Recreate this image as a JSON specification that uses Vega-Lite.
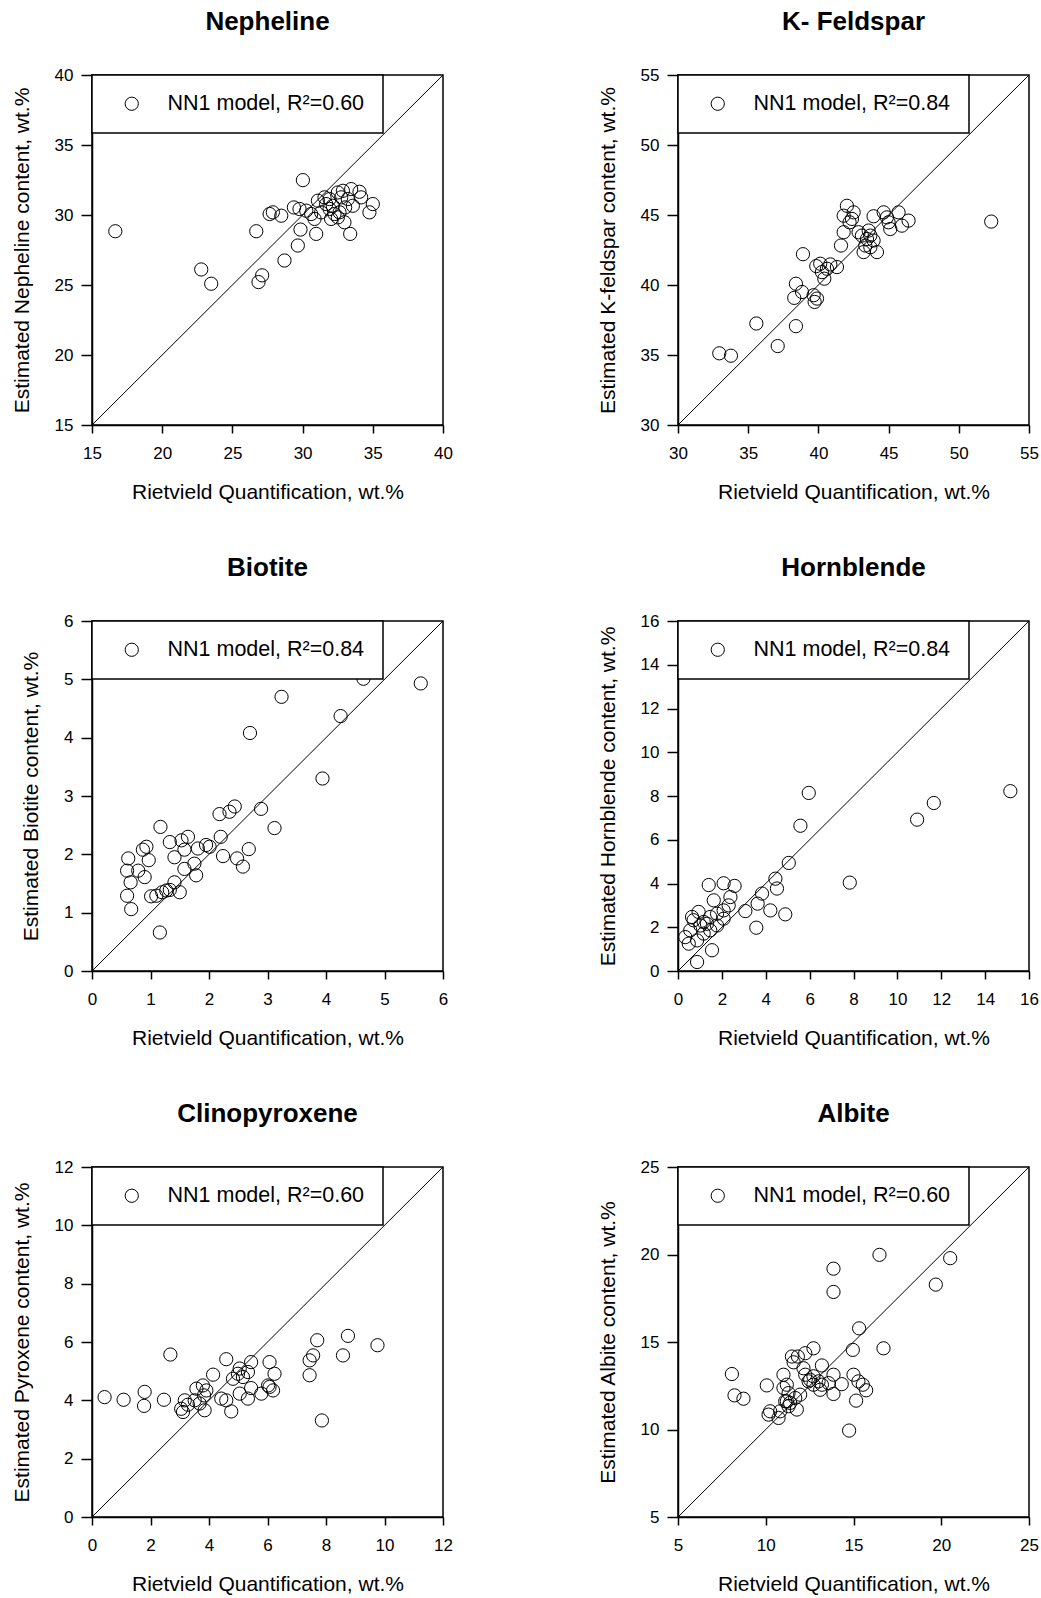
{
  "$schema": "https://vega.github.io/schema/vega-lite/v6.json",
  "background": "white",
  "padding": {"left": 10, "top": 8, "right": 0, "bottom": 0},
  "columns": 2,
  "spacing": {"row": 51, "column": 142},
  "datasets": {
    "points": [
      {"mineral": "Nepheline", "rietveld": 16.66, "estimated": 28.84},
      {"mineral": "Nepheline", "rietveld": 22.78, "estimated": 26.11},
      {"mineral": "Nepheline", "rietveld": 23.49, "estimated": 25.09},
      {"mineral": "Nepheline", "rietveld": 26.86, "estimated": 25.21},
      {"mineral": "Nepheline", "rietveld": 27.12, "estimated": 25.69},
      {"mineral": "Nepheline", "rietveld": 26.70, "estimated": 28.84},
      {"mineral": "Nepheline", "rietveld": 28.71, "estimated": 26.75},
      {"mineral": "Nepheline", "rietveld": 29.66, "estimated": 27.82},
      {"mineral": "Nepheline", "rietveld": 29.85, "estimated": 28.96},
      {"mineral": "Nepheline", "rietveld": 30.02, "estimated": 32.49},
      {"mineral": "Nepheline", "rietveld": 27.65, "estimated": 30.07},
      {"mineral": "Nepheline", "rietveld": 27.88, "estimated": 30.19},
      {"mineral": "Nepheline", "rietveld": 28.48, "estimated": 29.95},
      {"mineral": "Nepheline", "rietveld": 29.38, "estimated": 30.54},
      {"mineral": "Nepheline", "rietveld": 29.78, "estimated": 30.43},
      {"mineral": "Nepheline", "rietveld": 30.97, "estimated": 28.65},
      {"mineral": "Nepheline", "rietveld": 33.39, "estimated": 28.65},
      {"mineral": "Nepheline", "rietveld": 34.76, "estimated": 30.19},
      {"mineral": "Nepheline", "rietveld": 35.00, "estimated": 30.78},
      {"mineral": "Nepheline", "rietveld": 31.09, "estimated": 31.02},
      {"mineral": "Nepheline", "rietveld": 31.56, "estimated": 31.26},
      {"mineral": "Nepheline", "rietveld": 31.92, "estimated": 31.14},
      {"mineral": "Nepheline", "rietveld": 32.15, "estimated": 30.66},
      {"mineral": "Nepheline", "rietveld": 32.51, "estimated": 31.61},
      {"mineral": "Nepheline", "rietveld": 32.87, "estimated": 31.73},
      {"mineral": "Nepheline", "rietveld": 33.46, "estimated": 31.85},
      {"mineral": "Nepheline", "rietveld": 34.05, "estimated": 31.66},
      {"mineral": "Nepheline", "rietveld": 34.17, "estimated": 31.26},
      {"mineral": "Nepheline", "rietveld": 32.75, "estimated": 31.26},
      {"mineral": "Nepheline", "rietveld": 33.22, "estimated": 31.14},
      {"mineral": "Nepheline", "rietveld": 31.92, "estimated": 30.43},
      {"mineral": "Nepheline", "rietveld": 32.27, "estimated": 30.07},
      {"mineral": "Nepheline", "rietveld": 32.63, "estimated": 30.19},
      {"mineral": "Nepheline", "rietveld": 32.03, "estimated": 29.72},
      {"mineral": "Nepheline", "rietveld": 32.98, "estimated": 29.48},
      {"mineral": "Nepheline", "rietveld": 32.51, "estimated": 29.83},
      {"mineral": "Nepheline", "rietveld": 30.85, "estimated": 29.72},
      {"mineral": "Nepheline", "rietveld": 30.61, "estimated": 30.07},
      {"mineral": "Nepheline", "rietveld": 30.26, "estimated": 30.31},
      {"mineral": "Nepheline", "rietveld": 31.32, "estimated": 30.19},
      {"mineral": "Nepheline", "rietveld": 31.68, "estimated": 30.78},
      {"mineral": "Nepheline", "rietveld": 33.58, "estimated": 30.66},
      {"mineral": "Nepheline", "rietveld": 33.03, "estimated": 30.54},

      {"mineral": "K-Feldspar", "rietveld": 32.94, "estimated": 35.12},
      {"mineral": "K-Feldspar", "rietveld": 33.77, "estimated": 34.95},
      {"mineral": "K-Feldspar", "rietveld": 35.58, "estimated": 37.25},
      {"mineral": "K-Feldspar", "rietveld": 37.10, "estimated": 35.64},
      {"mineral": "K-Feldspar", "rietveld": 38.40, "estimated": 37.06},
      {"mineral": "K-Feldspar", "rietveld": 38.90, "estimated": 42.20},
      {"mineral": "K-Feldspar", "rietveld": 38.40, "estimated": 40.09},
      {"mineral": "K-Feldspar", "rietveld": 38.28, "estimated": 39.08},
      {"mineral": "K-Feldspar", "rietveld": 38.83, "estimated": 39.50},
      {"mineral": "K-Feldspar", "rietveld": 39.66, "estimated": 39.27},
      {"mineral": "K-Feldspar", "rietveld": 39.90, "estimated": 39.03},
      {"mineral": "K-Feldspar", "rietveld": 39.73, "estimated": 38.79},
      {"mineral": "K-Feldspar", "rietveld": 39.85, "estimated": 41.35},
      {"mineral": "K-Feldspar", "rietveld": 40.13, "estimated": 41.52},
      {"mineral": "K-Feldspar", "rietveld": 40.42, "estimated": 40.45},
      {"mineral": "K-Feldspar", "rietveld": 40.85, "estimated": 41.47},
      {"mineral": "K-Feldspar", "rietveld": 41.32, "estimated": 41.28},
      {"mineral": "K-Feldspar", "rietveld": 40.61, "estimated": 41.16},
      {"mineral": "K-Feldspar", "rietveld": 40.25, "estimated": 40.92},
      {"mineral": "K-Feldspar", "rietveld": 41.61, "estimated": 42.82},
      {"mineral": "K-Feldspar", "rietveld": 41.80, "estimated": 43.77},
      {"mineral": "K-Feldspar", "rietveld": 42.03, "estimated": 45.66},
      {"mineral": "K-Feldspar", "rietveld": 41.80, "estimated": 44.95},
      {"mineral": "K-Feldspar", "rietveld": 42.51, "estimated": 45.19},
      {"mineral": "K-Feldspar", "rietveld": 42.39, "estimated": 44.72},
      {"mineral": "K-Feldspar", "rietveld": 42.22, "estimated": 44.48},
      {"mineral": "K-Feldspar", "rietveld": 42.86, "estimated": 43.77},
      {"mineral": "K-Feldspar", "rietveld": 43.10, "estimated": 43.53},
      {"mineral": "K-Feldspar", "rietveld": 43.46, "estimated": 43.29},
      {"mineral": "K-Feldspar", "rietveld": 43.70, "estimated": 43.53},
      {"mineral": "K-Feldspar", "rietveld": 43.93, "estimated": 43.18},
      {"mineral": "K-Feldspar", "rietveld": 43.34, "estimated": 42.82},
      {"mineral": "K-Feldspar", "rietveld": 43.22, "estimated": 42.35},
      {"mineral": "K-Feldspar", "rietveld": 44.17, "estimated": 42.35},
      {"mineral": "K-Feldspar", "rietveld": 43.70, "estimated": 42.70},
      {"mineral": "K-Feldspar", "rietveld": 43.58, "estimated": 43.89},
      {"mineral": "K-Feldspar", "rietveld": 43.93, "estimated": 44.91},
      {"mineral": "K-Feldspar", "rietveld": 44.65, "estimated": 45.19},
      {"mineral": "K-Feldspar", "rietveld": 45.00, "estimated": 44.48},
      {"mineral": "K-Feldspar", "rietveld": 45.71, "estimated": 45.19},
      {"mineral": "K-Feldspar", "rietveld": 46.42, "estimated": 44.60},
      {"mineral": "K-Feldspar", "rietveld": 45.95, "estimated": 44.24},
      {"mineral": "K-Feldspar", "rietveld": 45.12, "estimated": 44.00},
      {"mineral": "K-Feldspar", "rietveld": 44.88, "estimated": 44.83},
      {"mineral": "K-Feldspar", "rietveld": 52.31, "estimated": 44.53},

      {"mineral": "Biotite", "rietveld": 5.62, "estimated": 4.93},
      {"mineral": "Biotite", "rietveld": 4.64, "estimated": 5.01},
      {"mineral": "Biotite", "rietveld": 3.24, "estimated": 4.70},
      {"mineral": "Biotite", "rietveld": 4.25, "estimated": 4.37},
      {"mineral": "Biotite", "rietveld": 2.70, "estimated": 4.08},
      {"mineral": "Biotite", "rietveld": 3.94, "estimated": 3.30},
      {"mineral": "Biotite", "rietveld": 2.89, "estimated": 2.78},
      {"mineral": "Biotite", "rietveld": 3.12, "estimated": 2.45},
      {"mineral": "Biotite", "rietveld": 2.44, "estimated": 2.82},
      {"mineral": "Biotite", "rietveld": 2.35, "estimated": 2.73},
      {"mineral": "Biotite", "rietveld": 2.18, "estimated": 2.69},
      {"mineral": "Biotite", "rietveld": 1.17, "estimated": 2.47},
      {"mineral": "Biotite", "rietveld": 0.93, "estimated": 2.13},
      {"mineral": "Biotite", "rietveld": 0.87, "estimated": 2.08},
      {"mineral": "Biotite", "rietveld": 0.97, "estimated": 1.90},
      {"mineral": "Biotite", "rietveld": 0.62, "estimated": 1.93},
      {"mineral": "Biotite", "rietveld": 0.60, "estimated": 1.72},
      {"mineral": "Biotite", "rietveld": 0.79, "estimated": 1.72},
      {"mineral": "Biotite", "rietveld": 0.90, "estimated": 1.61},
      {"mineral": "Biotite", "rietveld": 0.66, "estimated": 1.52},
      {"mineral": "Biotite", "rietveld": 0.60, "estimated": 1.29},
      {"mineral": "Biotite", "rietveld": 0.67, "estimated": 1.06},
      {"mineral": "Biotite", "rietveld": 1.16, "estimated": 0.66},
      {"mineral": "Biotite", "rietveld": 1.33, "estimated": 2.21},
      {"mineral": "Biotite", "rietveld": 1.53, "estimated": 2.24},
      {"mineral": "Biotite", "rietveld": 1.64, "estimated": 2.30},
      {"mineral": "Biotite", "rietveld": 1.58, "estimated": 2.08},
      {"mineral": "Biotite", "rietveld": 1.41, "estimated": 1.95},
      {"mineral": "Biotite", "rietveld": 1.58, "estimated": 1.75},
      {"mineral": "Biotite", "rietveld": 1.75, "estimated": 1.84},
      {"mineral": "Biotite", "rietveld": 1.81, "estimated": 2.10},
      {"mineral": "Biotite", "rietveld": 1.95, "estimated": 2.16},
      {"mineral": "Biotite", "rietveld": 2.01, "estimated": 2.13},
      {"mineral": "Biotite", "rietveld": 2.20, "estimated": 2.30},
      {"mineral": "Biotite", "rietveld": 1.78, "estimated": 1.64},
      {"mineral": "Biotite", "rietveld": 2.24, "estimated": 1.97},
      {"mineral": "Biotite", "rietveld": 2.48, "estimated": 1.93},
      {"mineral": "Biotite", "rietveld": 2.58, "estimated": 1.79},
      {"mineral": "Biotite", "rietveld": 2.68, "estimated": 2.09},
      {"mineral": "Biotite", "rietveld": 1.01, "estimated": 1.28},
      {"mineral": "Biotite", "rietveld": 1.10, "estimated": 1.29},
      {"mineral": "Biotite", "rietveld": 1.20, "estimated": 1.35},
      {"mineral": "Biotite", "rietveld": 1.27, "estimated": 1.38},
      {"mineral": "Biotite", "rietveld": 1.41, "estimated": 1.52},
      {"mineral": "Biotite", "rietveld": 1.50, "estimated": 1.35},
      {"mineral": "Biotite", "rietveld": 1.33, "estimated": 1.39},

      {"mineral": "Hornblende", "rietveld": 15.15, "estimated": 8.22},
      {"mineral": "Hornblende", "rietveld": 11.66, "estimated": 7.68},
      {"mineral": "Hornblende", "rietveld": 10.90, "estimated": 6.92},
      {"mineral": "Hornblende", "rietveld": 5.96, "estimated": 8.14},
      {"mineral": "Hornblende", "rietveld": 5.58, "estimated": 6.64},
      {"mineral": "Hornblende", "rietveld": 5.05, "estimated": 4.94},
      {"mineral": "Hornblende", "rietveld": 7.83, "estimated": 4.04},
      {"mineral": "Hornblende", "rietveld": 4.44, "estimated": 4.22},
      {"mineral": "Hornblende", "rietveld": 4.51, "estimated": 3.77},
      {"mineral": "Hornblende", "rietveld": 3.83, "estimated": 3.54},
      {"mineral": "Hornblende", "rietveld": 3.63, "estimated": 3.08},
      {"mineral": "Hornblende", "rietveld": 4.21, "estimated": 2.77},
      {"mineral": "Hornblende", "rietveld": 4.89, "estimated": 2.59},
      {"mineral": "Hornblende", "rietveld": 3.07, "estimated": 2.74},
      {"mineral": "Hornblende", "rietveld": 3.57, "estimated": 1.98},
      {"mineral": "Hornblende", "rietveld": 1.40, "estimated": 3.93},
      {"mineral": "Hornblende", "rietveld": 2.08, "estimated": 4.01},
      {"mineral": "Hornblende", "rietveld": 2.58, "estimated": 3.89},
      {"mineral": "Hornblende", "rietveld": 1.63, "estimated": 3.23},
      {"mineral": "Hornblende", "rietveld": 2.39, "estimated": 3.38},
      {"mineral": "Hornblende", "rietveld": 2.31, "estimated": 3.00},
      {"mineral": "Hornblende", "rietveld": 2.08, "estimated": 2.77},
      {"mineral": "Hornblende", "rietveld": 1.78, "estimated": 2.62},
      {"mineral": "Hornblende", "rietveld": 1.47, "estimated": 2.47},
      {"mineral": "Hornblende", "rietveld": 1.17, "estimated": 2.24},
      {"mineral": "Hornblende", "rietveld": 1.02, "estimated": 2.08},
      {"mineral": "Hornblende", "rietveld": 0.71, "estimated": 2.32},
      {"mineral": "Hornblende", "rietveld": 0.56, "estimated": 1.86},
      {"mineral": "Hornblende", "rietveld": 0.33, "estimated": 1.55},
      {"mineral": "Hornblende", "rietveld": 0.49, "estimated": 1.25},
      {"mineral": "Hornblende", "rietveld": 0.87, "estimated": 1.40},
      {"mineral": "Hornblende", "rietveld": 1.17, "estimated": 1.71},
      {"mineral": "Hornblende", "rietveld": 1.47, "estimated": 1.86},
      {"mineral": "Hornblende", "rietveld": 1.78, "estimated": 2.08},
      {"mineral": "Hornblende", "rietveld": 2.08, "estimated": 2.39},
      {"mineral": "Hornblende", "rietveld": 1.55, "estimated": 0.95},
      {"mineral": "Hornblende", "rietveld": 0.87, "estimated": 0.41},
      {"mineral": "Hornblende", "rietveld": 0.64, "estimated": 2.47},
      {"mineral": "Hornblende", "rietveld": 0.94, "estimated": 2.70},
      {"mineral": "Hornblende", "rietveld": 1.32, "estimated": 2.16},

      {"mineral": "Clinopyroxene", "rietveld": 0.43, "estimated": 4.11},
      {"mineral": "Clinopyroxene", "rietveld": 1.08, "estimated": 4.02},
      {"mineral": "Clinopyroxene", "rietveld": 1.80, "estimated": 4.29},
      {"mineral": "Clinopyroxene", "rietveld": 1.78, "estimated": 3.81},
      {"mineral": "Clinopyroxene", "rietveld": 2.46, "estimated": 4.02},
      {"mineral": "Clinopyroxene", "rietveld": 2.68, "estimated": 5.57},
      {"mineral": "Clinopyroxene", "rietveld": 3.05, "estimated": 3.71},
      {"mineral": "Clinopyroxene", "rietveld": 3.17, "estimated": 4.00},
      {"mineral": "Clinopyroxene", "rietveld": 3.11, "estimated": 3.60},
      {"mineral": "Clinopyroxene", "rietveld": 3.28, "estimated": 3.85},
      {"mineral": "Clinopyroxene", "rietveld": 3.57, "estimated": 4.40},
      {"mineral": "Clinopyroxene", "rietveld": 3.68, "estimated": 3.89},
      {"mineral": "Clinopyroxene", "rietveld": 3.51, "estimated": 4.00},
      {"mineral": "Clinopyroxene", "rietveld": 3.79, "estimated": 4.51},
      {"mineral": "Clinopyroxene", "rietveld": 3.91, "estimated": 4.34},
      {"mineral": "Clinopyroxene", "rietveld": 3.83, "estimated": 4.17},
      {"mineral": "Clinopyroxene", "rietveld": 3.85, "estimated": 3.66},
      {"mineral": "Clinopyroxene", "rietveld": 4.14, "estimated": 4.88},
      {"mineral": "Clinopyroxene", "rietveld": 4.42, "estimated": 4.06},
      {"mineral": "Clinopyroxene", "rietveld": 4.59, "estimated": 4.00},
      {"mineral": "Clinopyroxene", "rietveld": 4.59, "estimated": 5.41},
      {"mineral": "Clinopyroxene", "rietveld": 4.76, "estimated": 3.62},
      {"mineral": "Clinopyroxene", "rietveld": 4.82, "estimated": 4.74},
      {"mineral": "Clinopyroxene", "rietveld": 4.99, "estimated": 4.91},
      {"mineral": "Clinopyroxene", "rietveld": 5.05, "estimated": 5.09},
      {"mineral": "Clinopyroxene", "rietveld": 5.16, "estimated": 4.80},
      {"mineral": "Clinopyroxene", "rietveld": 5.33, "estimated": 4.97},
      {"mineral": "Clinopyroxene", "rietveld": 5.05, "estimated": 4.23},
      {"mineral": "Clinopyroxene", "rietveld": 5.33, "estimated": 4.06},
      {"mineral": "Clinopyroxene", "rietveld": 5.44, "estimated": 5.31},
      {"mineral": "Clinopyroxene", "rietveld": 5.44, "estimated": 4.42},
      {"mineral": "Clinopyroxene", "rietveld": 5.79, "estimated": 4.23},
      {"mineral": "Clinopyroxene", "rietveld": 6.07, "estimated": 5.31},
      {"mineral": "Clinopyroxene", "rietveld": 6.24, "estimated": 4.91},
      {"mineral": "Clinopyroxene", "rietveld": 6.07, "estimated": 4.46},
      {"mineral": "Clinopyroxene", "rietveld": 6.19, "estimated": 4.34},
      {"mineral": "Clinopyroxene", "rietveld": 6.02, "estimated": 4.51},
      {"mineral": "Clinopyroxene", "rietveld": 7.44, "estimated": 4.86},
      {"mineral": "Clinopyroxene", "rietveld": 7.44, "estimated": 5.37},
      {"mineral": "Clinopyroxene", "rietveld": 7.56, "estimated": 5.54},
      {"mineral": "Clinopyroxene", "rietveld": 7.70, "estimated": 6.06},
      {"mineral": "Clinopyroxene", "rietveld": 7.86, "estimated": 3.31},
      {"mineral": "Clinopyroxene", "rietveld": 8.58, "estimated": 5.54},
      {"mineral": "Clinopyroxene", "rietveld": 8.75, "estimated": 6.21},
      {"mineral": "Clinopyroxene", "rietveld": 9.76, "estimated": 5.89},

      {"mineral": "Albite", "rietveld": 16.48, "estimated": 19.98},
      {"mineral": "Albite", "rietveld": 20.51, "estimated": 19.79},
      {"mineral": "Albite", "rietveld": 13.86, "estimated": 19.19},
      {"mineral": "Albite", "rietveld": 13.86, "estimated": 17.86},
      {"mineral": "Albite", "rietveld": 19.69, "estimated": 18.28},
      {"mineral": "Albite", "rietveld": 15.32, "estimated": 15.78},
      {"mineral": "Albite", "rietveld": 14.96, "estimated": 14.55},
      {"mineral": "Albite", "rietveld": 16.71, "estimated": 14.64},
      {"mineral": "Albite", "rietveld": 12.72, "estimated": 14.64},
      {"mineral": "Albite", "rietveld": 12.25, "estimated": 14.36},
      {"mineral": "Albite", "rietveld": 11.83, "estimated": 14.17},
      {"mineral": "Albite", "rietveld": 11.49, "estimated": 14.17},
      {"mineral": "Albite", "rietveld": 11.59, "estimated": 13.84},
      {"mineral": "Albite", "rietveld": 13.20, "estimated": 13.66},
      {"mineral": "Albite", "rietveld": 8.07, "estimated": 13.17},
      {"mineral": "Albite", "rietveld": 10.06, "estimated": 12.52},
      {"mineral": "Albite", "rietveld": 8.22, "estimated": 11.95},
      {"mineral": "Albite", "rietveld": 8.73, "estimated": 11.76},
      {"mineral": "Albite", "rietveld": 11.01, "estimated": 13.13},
      {"mineral": "Albite", "rietveld": 11.20, "estimated": 12.56},
      {"mineral": "Albite", "rietveld": 11.01, "estimated": 12.37},
      {"mineral": "Albite", "rietveld": 11.30, "estimated": 12.08},
      {"mineral": "Albite", "rietveld": 11.11, "estimated": 11.61},
      {"mineral": "Albite", "rietveld": 11.30, "estimated": 11.33},
      {"mineral": "Albite", "rietveld": 11.68, "estimated": 11.80},
      {"mineral": "Albite", "rietveld": 11.96, "estimated": 11.99},
      {"mineral": "Albite", "rietveld": 11.77, "estimated": 11.14},
      {"mineral": "Albite", "rietveld": 10.82, "estimated": 11.04},
      {"mineral": "Albite", "rietveld": 10.25, "estimated": 11.04},
      {"mineral": "Albite", "rietveld": 10.16, "estimated": 10.85},
      {"mineral": "Albite", "rietveld": 10.73, "estimated": 10.66},
      {"mineral": "Albite", "rietveld": 11.39, "estimated": 11.52},
      {"mineral": "Albite", "rietveld": 11.20, "estimated": 11.61},
      {"mineral": "Albite", "rietveld": 12.15, "estimated": 13.50},
      {"mineral": "Albite", "rietveld": 12.25, "estimated": 13.13},
      {"mineral": "Albite", "rietveld": 12.44, "estimated": 12.75},
      {"mineral": "Albite", "rietveld": 12.72, "estimated": 12.56},
      {"mineral": "Albite", "rietveld": 12.53, "estimated": 12.84},
      {"mineral": "Albite", "rietveld": 13.01, "estimated": 12.75},
      {"mineral": "Albite", "rietveld": 13.20, "estimated": 12.56},
      {"mineral": "Albite", "rietveld": 13.58, "estimated": 12.65},
      {"mineral": "Albite", "rietveld": 13.86, "estimated": 12.03},
      {"mineral": "Albite", "rietveld": 14.33, "estimated": 12.59},
      {"mineral": "Albite", "rietveld": 13.86, "estimated": 13.13},
      {"mineral": "Albite", "rietveld": 13.10, "estimated": 12.27},
      {"mineral": "Albite", "rietveld": 12.72, "estimated": 13.04},
      {"mineral": "Albite", "rietveld": 15.00, "estimated": 13.13},
      {"mineral": "Albite", "rietveld": 15.28, "estimated": 12.75},
      {"mineral": "Albite", "rietveld": 15.53, "estimated": 12.56},
      {"mineral": "Albite", "rietveld": 15.72, "estimated": 12.24},
      {"mineral": "Albite", "rietveld": 15.15, "estimated": 11.65},
      {"mineral": "Albite", "rietveld": 14.75, "estimated": 9.94}
    ],
    "parity": [
      {"mineral": "Nepheline", "rietveld": 15, "estimated": 15, "rietveld_end": 40, "estimated_end": 40},
      {"mineral": "K-Feldspar", "rietveld": 30, "estimated": 30, "rietveld_end": 55, "estimated_end": 55},
      {"mineral": "Biotite", "rietveld": 0, "estimated": 0, "rietveld_end": 6, "estimated_end": 6},
      {"mineral": "Hornblende", "rietveld": 0, "estimated": 0, "rietveld_end": 16, "estimated_end": 16},
      {"mineral": "Clinopyroxene", "rietveld": 0, "estimated": 0, "rietveld_end": 12, "estimated_end": 12},
      {"mineral": "Albite", "rietveld": 5, "estimated": 5, "rietveld_end": 25, "estimated_end": 25}
    ]
  },
  "concat": [
    {
      "title": "Nepheline",
      "width": 351, "height": 350,
      "encoding": {
        "x": {"field": "rietveld", "type": "quantitative", "scale": {"domain": [15, 40], "nice": false, "zero": false}, "axis": {"title": "Rietvield Quantification, wt.%", "values": [15, 20, 25, 30, 35, 40]}},
        "y": {"field": "estimated", "type": "quantitative", "scale": {"domain": [15, 40], "nice": false, "zero": false}, "axis": {"title": "Estimated Nepheline content, wt.%", "values": [15, 20, 25, 30, 35, 40]}}
      },
      "layer": [
        {"data": {"name": "parity"}, "transform": [{"filter": "datum.mineral === 'Nepheline'"}], "mark": {"type": "rule", "color": "black", "strokeWidth": 1}, "encoding": {"x2": {"field": "rietveld_end"}, "y2": {"field": "estimated_end"}}},
        {"data": {"name": "points"}, "transform": [{"filter": "datum.mineral === 'Nepheline'"}], "mark": {"type": "point", "filled": false, "color": "black", "strokeWidth": 1, "size": 175, "opacity": 1}, "encoding": {"shape": {"datum": "NN1 model, R²=0.60", "scale": {"range": ["circle"]}, "legend": {"title": null}}}}
      ]
    },
    {
      "title": "K- Feldspar",
      "width": 351, "height": 350,
      "encoding": {
        "x": {"field": "rietveld", "type": "quantitative", "scale": {"domain": [30, 55], "nice": false, "zero": false}, "axis": {"title": "Rietvield Quantification, wt.%", "values": [30, 35, 40, 45, 50, 55]}},
        "y": {"field": "estimated", "type": "quantitative", "scale": {"domain": [30, 55], "nice": false, "zero": false}, "axis": {"title": "Estimated K-feldspar content, wt.%", "values": [30, 35, 40, 45, 50, 55]}}
      },
      "layer": [
        {"data": {"name": "parity"}, "transform": [{"filter": "datum.mineral === 'K-Feldspar'"}], "mark": {"type": "rule", "color": "black", "strokeWidth": 1}, "encoding": {"x2": {"field": "rietveld_end"}, "y2": {"field": "estimated_end"}}},
        {"data": {"name": "points"}, "transform": [{"filter": "datum.mineral === 'K-Feldspar'"}], "mark": {"type": "point", "filled": false, "color": "black", "strokeWidth": 1, "size": 175, "opacity": 1}, "encoding": {"shape": {"datum": "NN1 model, R²=0.84", "scale": {"range": ["circle"]}, "legend": {"title": null}}}}
      ]
    },
    {
      "title": "Biotite",
      "width": 351, "height": 350,
      "encoding": {
        "x": {"field": "rietveld", "type": "quantitative", "scale": {"domain": [0, 6], "nice": false, "zero": false}, "axis": {"title": "Rietvield Quantification, wt.%", "values": [0, 1, 2, 3, 4, 5, 6]}},
        "y": {"field": "estimated", "type": "quantitative", "scale": {"domain": [0, 6], "nice": false, "zero": false}, "axis": {"title": "Estimated Biotite content, wt.%", "values": [0, 1, 2, 3, 4, 5, 6]}}
      },
      "layer": [
        {"data": {"name": "parity"}, "transform": [{"filter": "datum.mineral === 'Biotite'"}], "mark": {"type": "rule", "color": "black", "strokeWidth": 1}, "encoding": {"x2": {"field": "rietveld_end"}, "y2": {"field": "estimated_end"}}},
        {"data": {"name": "points"}, "transform": [{"filter": "datum.mineral === 'Biotite'"}], "mark": {"type": "point", "filled": false, "color": "black", "strokeWidth": 1, "size": 175, "opacity": 1}, "encoding": {"shape": {"datum": "NN1 model, R²=0.84", "scale": {"range": ["circle"]}, "legend": {"title": null}}}}
      ]
    },
    {
      "title": "Hornblende",
      "width": 351, "height": 350,
      "encoding": {
        "x": {"field": "rietveld", "type": "quantitative", "scale": {"domain": [0, 16], "nice": false, "zero": false}, "axis": {"title": "Rietvield Quantification, wt.%", "values": [0, 2, 4, 6, 8, 10, 12, 14, 16]}},
        "y": {"field": "estimated", "type": "quantitative", "scale": {"domain": [0, 16], "nice": false, "zero": false}, "axis": {"title": "Estimated Hornblende content, wt.%", "values": [0, 2, 4, 6, 8, 10, 12, 14, 16]}}
      },
      "layer": [
        {"data": {"name": "parity"}, "transform": [{"filter": "datum.mineral === 'Hornblende'"}], "mark": {"type": "rule", "color": "black", "strokeWidth": 1}, "encoding": {"x2": {"field": "rietveld_end"}, "y2": {"field": "estimated_end"}}},
        {"data": {"name": "points"}, "transform": [{"filter": "datum.mineral === 'Hornblende'"}], "mark": {"type": "point", "filled": false, "color": "black", "strokeWidth": 1, "size": 175, "opacity": 1}, "encoding": {"shape": {"datum": "NN1 model, R²=0.84", "scale": {"range": ["circle"]}, "legend": {"title": null}}}}
      ]
    },
    {
      "title": "Clinopyroxene",
      "width": 351, "height": 350,
      "encoding": {
        "x": {"field": "rietveld", "type": "quantitative", "scale": {"domain": [0, 12], "nice": false, "zero": false}, "axis": {"title": "Rietvield Quantification, wt.%", "values": [0, 2, 4, 6, 8, 10, 12]}},
        "y": {"field": "estimated", "type": "quantitative", "scale": {"domain": [0, 12], "nice": false, "zero": false}, "axis": {"title": "Estimated Pyroxene content, wt.%", "values": [0, 2, 4, 6, 8, 10, 12]}}
      },
      "layer": [
        {"data": {"name": "parity"}, "transform": [{"filter": "datum.mineral === 'Clinopyroxene'"}], "mark": {"type": "rule", "color": "black", "strokeWidth": 1}, "encoding": {"x2": {"field": "rietveld_end"}, "y2": {"field": "estimated_end"}}},
        {"data": {"name": "points"}, "transform": [{"filter": "datum.mineral === 'Clinopyroxene'"}], "mark": {"type": "point", "filled": false, "color": "black", "strokeWidth": 1, "size": 175, "opacity": 1}, "encoding": {"shape": {"datum": "NN1 model, R²=0.60", "scale": {"range": ["circle"]}, "legend": {"title": null}}}}
      ]
    },
    {
      "title": "Albite",
      "width": 351, "height": 350,
      "encoding": {
        "x": {"field": "rietveld", "type": "quantitative", "scale": {"domain": [5, 25], "nice": false, "zero": false}, "axis": {"title": "Rietvield Quantification, wt.%", "values": [5, 10, 15, 20, 25]}},
        "y": {"field": "estimated", "type": "quantitative", "scale": {"domain": [5, 25], "nice": false, "zero": false}, "axis": {"title": "Estimated Albite content, wt.%", "values": [5, 10, 15, 20, 25]}}
      },
      "layer": [
        {"data": {"name": "parity"}, "transform": [{"filter": "datum.mineral === 'Albite'"}], "mark": {"type": "rule", "color": "black", "strokeWidth": 1}, "encoding": {"x2": {"field": "rietveld_end"}, "y2": {"field": "estimated_end"}}},
        {"data": {"name": "points"}, "transform": [{"filter": "datum.mineral === 'Albite'"}], "mark": {"type": "point", "filled": false, "color": "black", "strokeWidth": 1, "size": 175, "opacity": 1}, "encoding": {"shape": {"datum": "NN1 model, R²=0.60", "scale": {"range": ["circle"]}, "legend": {"title": null}}}}
      ]
    }
  ],
  "resolve": {
    "scale": {"x": "independent", "y": "independent", "shape": "independent"},
    "axis": {"x": "independent", "y": "independent"},
    "legend": {"shape": "independent"}
  },
  "config": {
    "font": "Liberation Sans",
    "view": {"stroke": "black", "strokeWidth": 1.5},
    "axis": {
      "grid": false,
      "domain": true,
      "domainColor": "black",
      "domainWidth": 1.5,
      "tickColor": "black",
      "tickWidth": 1.5,
      "labelColor": "black",
      "labelFont": "Liberation Sans",
      "labelFontSize": 17,
      "labelFlush": false,
      "labelOverlap": false,
      "titleColor": "black",
      "titleFont": "Liberation Sans",
      "titleFontSize": 21,
      "titleFontWeight": "normal"
    },
    "axisX": {"tickSize": 8, "labelPadding": 12, "titlePadding": 20},
    "axisY": {"tickSize": 11, "labelPadding": 8, "titlePadding": 22},
    "title": {"font": "Liberation Sans", "fontSize": 26, "fontWeight": "bold", "color": "black", "frame": "group", "anchor": "middle", "offset": 31},
    "legend": {
      "orient": "top-left",
      "offset": 0,
      "padding": 18,
      "strokeColor": "black",
      "strokeWidth": 1.5,
      "fillColor": "white",
      "labelFont": "Liberation Sans",
      "labelFontSize": 21.5,
      "labelColor": "black",
      "labelLimit": 400,
      "labelOffset": 25,
      "symbolOffset": 11,
      "symbolSize": 175,
      "symbolType": "circle",
      "symbolStrokeColor": "black",
      "symbolStrokeWidth": 1,
      "symbolFillColor": "transparent"
    }
  }
}
